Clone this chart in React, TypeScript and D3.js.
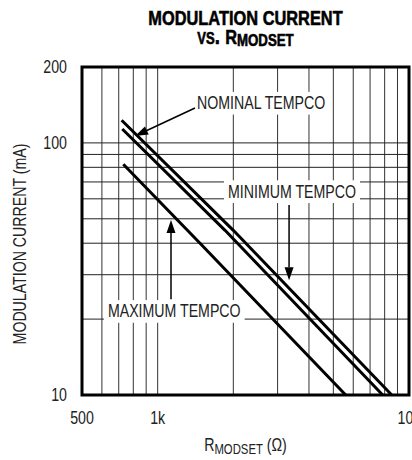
import React, { useEffect, useRef } from "react";
import * as d3 from "d3";

// R_MODSET (ohm) vs modulation current (mA)
const minimumTempco: [number, number][] = [
  [719, 123],
  [2000, 45],
  [8540, 10],
];
const nominalTempco: [number, number][] = [
  [723, 113.5],
  [1854, 45],
  [7860, 10],
];
const maximumTempco: [number, number][] = [
  [730, 82.3],
  [1474, 40],
  [5600, 10],
];

const xTicks = [500, 1000, 10000];
const xTickLabels = ["500", "1k", "10k"];
const yTicks = [10, 100, 200];
const yTickLabels = ["10", "100", "200"];
const xGrid = [600, 700, 800, 900, 1000, 2000, 3000, 4000, 5000, 6000, 7000, 8000, 9000];
const yGrid = [20, 30, 40, 50, 60, 70, 80, 90, 100];

// label text start (R, I) + arrow tail and tip (R, I)
const annotations = [
  { text: "NOMINAL TEMPCO", at: [1434, 144], from: [1408, 137.5], to: [813, 106.5] },
  { text: "MINIMUM TEMPCO", at: [1905, 64.2], from: [3333, 56.7], to: [3333, 28.5] },
  { text: "MAXIMUM TEMPCO", at: [634, 21.5], from: [1130, 24.0], to: [1130, 49.5] },
];

const FONT = '"Liberation Sans", Arial, sans-serif';
const SX = 0.81; // condensed look: squeeze text horizontally

const Chart = () => {
  const ref = useRef<HTMLDivElement>(null);
  useEffect(() => {
    if (!ref.current) return;
    d3.select(ref.current).select("svg").remove();
    const width = 412;
    const height = 460;
    const left = 82,
      right = 409,
      top = 67,
      bottom = 395;

    const x = d3.scaleLog().domain([500, 10000]).range([left, right]);
    const y = d3.scaleLog().domain([10, 200]).range([bottom, top]);

    const svg = d3
      .select(ref.current)
      .append("svg")
      .attr("width", width)
      .attr("height", height)
      .style("position", "absolute")
      .style("left", "0px")
      .style("top", "0px")
      .style("font-family", FONT)
      .style("background", "#fff");

    // text inside a squeezed group
    const txt = (px: number, py: number, extra = "", sx = SX) =>
      svg
        .append("g")
        .attr("transform", `translate(${px},${py})${extra} scale(${sx},1)`)
        .append("text")
        .attr("font-size", 17.5)
        .attr("fill", "#222");

    // grid
    svg
      .append("g")
      .selectAll("line")
      .data(xGrid)
      .enter()
      .append("line")
      .attr("x1", (d) => x(d))
      .attr("x2", (d) => x(d))
      .attr("y1", top)
      .attr("y2", bottom)
      .attr("stroke", "#333")
      .attr("stroke-width", 1);
    svg
      .append("g")
      .selectAll("line")
      .data(yGrid)
      .enter()
      .append("line")
      .attr("x1", left)
      .attr("x2", right)
      .attr("y1", (d) => y(d))
      .attr("y2", (d) => y(d))
      .attr("stroke", "#222")
      .attr("stroke-width", 1);

    // curves
    const line = d3
      .line<[number, number]>()
      .x((d) => x(d[0]))
      .y((d) => y(d[1]));
    [minimumTempco, nominalTempco, maximumTempco].forEach((s) => {
      svg
        .append("path")
        .attr("d", line(s))
        .attr("fill", "none")
        .attr("stroke", "#000")
        .attr("stroke-width", 3);
    });

    // frame
    svg
      .append("rect")
      .attr("x", left)
      .attr("y", top)
      .attr("width", right - left)
      .attr("height", bottom - top)
      .attr("fill", "none")
      .attr("stroke", "#000")
      .attr("stroke-width", 3);

    // annotations
    annotations.forEach((a) => {
      const t = txt(x(a.at[0]), y(a.at[1]))
        .attr("dy", "0.36em")
        .text(a.text);
      const bb = (t.node() as SVGTextElement).getBBox();
      d3.select((t.node() as SVGTextElement).parentNode as SVGGElement)
        .insert("rect", "text")
        .attr("fill", "#fff")
        .attr("x", bb.x - 5)
        .attr("y", bb.y - 2)
        .attr("width", bb.width + 10)
        .attr("height", bb.height + 4);

      const x1 = x(a.from[0]),
        y1 = y(a.from[1]),
        x2 = x(a.to[0]),
        y2 = y(a.to[1]);
      const ang = Math.atan2(y2 - y1, x2 - x1);
      const len = 13,
        hw = 4.5;
      const bx = x2 - len * Math.cos(ang),
        by = y2 - len * Math.sin(ang);
      svg
        .append("line")
        .attr("x1", x1)
        .attr("y1", y1)
        .attr("x2", bx)
        .attr("y2", by)
        .attr("stroke", "#000")
        .attr("stroke-width", 1.5);
      svg
        .append("polygon")
        .attr(
          "points",
          [
            [x2, y2],
            [bx + hw * Math.sin(ang), by - hw * Math.cos(ang)],
            [bx - hw * Math.sin(ang), by + hw * Math.cos(ang)],
          ]
            .map((p) => p.join(","))
            .join(" ")
        )
        .attr("fill", "#000");
    });

    // tick labels
    xTicks.forEach((d, i) => {
      txt(x(d), 424).attr("text-anchor", "middle").text(xTickLabels[i]);
    });
    yTicks.forEach((d, i) => {
      txt(67, y(d)).attr("dy", "0.36em").attr("text-anchor", "end").text(yTickLabels[i]);
    });

    // axis titles
    txt(26, 244, " rotate(-90)")
      .attr("text-anchor", "middle")
      .text("MODULATION CURRENT (mA)");
    const xt = txt((left + right) / 2, 451).attr("text-anchor", "middle");
    xt.append("tspan").text("R");
    xt.append("tspan").attr("font-size", 14).attr("dy", 3).text("MODSET");
    xt.append("tspan").attr("dy", -3).text(" (Ω)");

    // title
    txt((left + right) / 2, 25, "", 0.78)
      .attr("text-anchor", "middle")
      .attr("font-size", 21)
      .attr("font-weight", "bold")
      .attr("fill", "#000")
      .attr("stroke", "#000")
      .attr("stroke-width", 0.6)
      .text("MODULATION CURRENT");
    const t2 = txt((left + right) / 2, 43.5, "", 0.78)
      .attr("text-anchor", "middle")
      .attr("font-size", 21)
      .attr("font-weight", "bold")
      .attr("fill", "#000")
      .attr("stroke", "#000")
      .attr("stroke-width", 0.6);
    t2.append("tspan").attr("font-size", 24).style("font-variant", "small-caps").text("vs. ");
    t2.append("tspan").text("R");
    t2.append("tspan").attr("font-size", 17).attr("dy", 2).text("MODSET");
  }, []);
  return <div ref={ref}></div>;
};

export default function App() {
  return <Chart />;
}
